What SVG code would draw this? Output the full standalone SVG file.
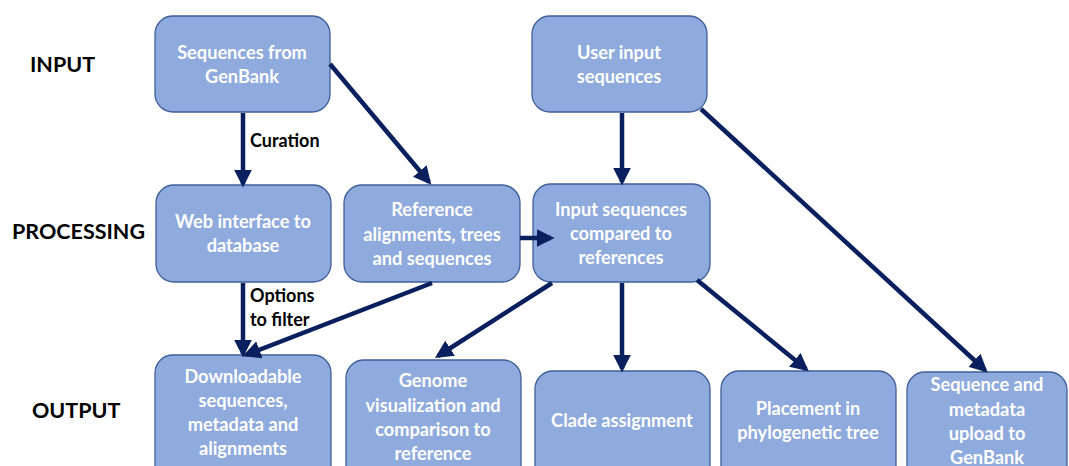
<svg xmlns="http://www.w3.org/2000/svg" width="1069" height="466" viewBox="0 0 1069 466">
<style>
.box{fill:#8faadc;stroke:#3f5f99;stroke-width:1.3}
.t{font-family:Lato,"Liberation Sans",sans-serif;font-weight:bold;font-size:18.2px;fill:#ffffff;text-anchor:middle}
.lab{font-family:Lato,"Liberation Sans",sans-serif;font-weight:bold;font-size:21.5px;fill:#000000}
.sm{font-family:Lato,"Liberation Sans",sans-serif;font-weight:bold;font-size:18px;fill:#000000}
.c{stroke:#0a1f5e;stroke-width:4.5;fill:none;marker-end:url(#ah)}
</style>
<defs>
<marker id="ah" markerWidth="4" markerHeight="4" refX="3.2" refY="2" orient="auto" markerUnits="strokeWidth" viewBox="0 0 4 4">
<path d="M0,0 L4,2 L0,4 Z" fill="#0a1f5e"/>
</marker>
</defs>
<rect width="1069" height="466" fill="#ffffff"/>
<g id="row-labels">
<text class="lab" x="30" y="72">INPUT</text>
<text class="lab" x="12" y="239">PROCESSING</text>
<text class="lab" x="32" y="418">OUTPUT</text>
</g>
<g id="n-genbank"><rect class="box" x="155" y="16" width="175" height="96" rx="18"/>
<text class="t" x="242" y="59">Sequences from</text><text class="t" x="242" y="83">GenBank</text></g>
<g id="n-user"><rect class="box" x="532" y="16" width="175" height="96" rx="18"/>
<text class="t" x="619" y="59">User input</text><text class="t" x="619" y="83">sequences</text></g>
<g id="n-web"><rect class="box" x="156" y="185" width="175" height="97" rx="18"/>
<text class="t" x="243" y="228">Web interface to</text><text class="t" x="243" y="252">database</text></g>
<g id="n-ref"><rect class="box" x="344" y="185" width="176" height="97" rx="18"/>
<text class="t" x="432" y="216">Reference</text><text class="t" x="432" y="241">alignments, trees</text><text class="t" x="432" y="265">and sequences</text></g>
<g id="n-cmp"><rect class="box" x="533" y="184" width="177" height="98" rx="18"/>
<text class="t" x="621" y="216">Input sequences</text><text class="t" x="621" y="240">compared to</text><text class="t" x="621" y="264">references</text></g>
<g id="n-dl"><rect class="box" x="155" y="355" width="176" height="130" rx="18"/>
<text class="t" x="243" y="383">Downloadable</text><text class="t" x="243" y="407">sequences,</text><text class="t" x="243" y="431">metadata and</text><text class="t" x="243" y="455">alignments</text></g>
<g id="n-genome"><rect class="box" x="346" y="360" width="175" height="125" rx="18"/>
<text class="t" x="433" y="387">Genome</text><text class="t" x="433" y="412">visualization and</text><text class="t" x="433" y="436">comparison to</text><text class="t" x="433" y="460">reference</text></g>
<g id="n-clade"><rect class="box" x="535" y="371" width="175" height="114" rx="18"/>
<text class="t" x="622" y="427">Clade assignment</text></g>
<g id="n-place"><rect class="box" x="721" y="371" width="175" height="114" rx="18"/>
<text class="t" x="808" y="415">Placement in</text><text class="t" x="808" y="439">phylogenetic tree</text></g>
<g id="n-upload"><rect class="box" x="907" y="372" width="160" height="113" rx="18"/>
<text class="t" x="987" y="391">Sequence and</text><text class="t" x="987" y="416">metadata</text><text class="t" x="987" y="440">upload to</text><text class="t" x="987" y="464">GenBank</text></g>
<g id="connectors">
<line class="c" x1="243" y1="113" x2="243" y2="184"/>
<line class="c" x1="330" y1="64" x2="429" y2="182"/>
<line class="c" x1="622" y1="113" x2="622" y2="182"/>
<line class="c" x1="701" y1="109" x2="985" y2="370"/>
<line class="c" x1="520" y1="238" x2="551" y2="238"/>
<line class="c" x1="243" y1="283" x2="243" y2="354"/>
<line class="c" x1="432" y1="283" x2="246" y2="355"/>
<line class="c" x1="552" y1="283" x2="438" y2="356"/>
<line class="c" x1="622" y1="283" x2="622" y2="369"/>
<line class="c" x1="697" y1="280" x2="806" y2="369"/>
<text class="sm" x="250" y="147">Curation</text>
<text class="sm" x="250" y="302">Options</text>
<text class="sm" x="250" y="326">to filter</text>
</g>
</svg>
